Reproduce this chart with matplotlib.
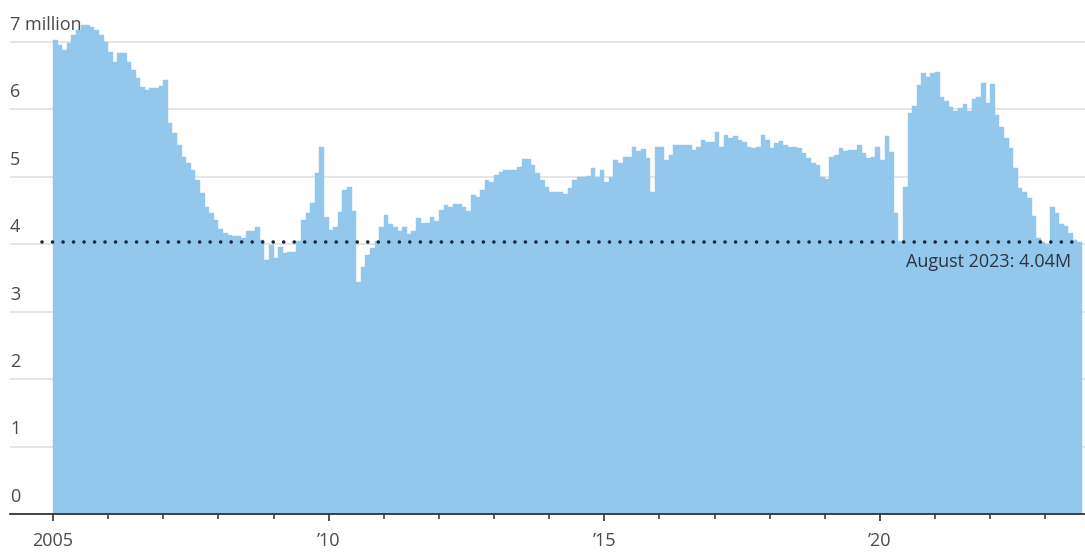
import numpy as np
import matplotlib.pyplot as plt
from matplotlib.transforms import blended_transform_factory

plt.rcParams['font.family'] = ['Open Sans', 'DejaVu Sans']

# Existing-home sales, seasonally adjusted annual rate, millions
sales_2005 = [7.03, 6.95, 6.88, 6.98, 7.10, 7.18, 7.25, 7.25, 7.22, 7.18, 7.10, 7.00]
sales_2006 = [6.85, 6.70, 6.83, 6.83, 6.70, 6.58, 6.46, 6.33, 6.29, 6.32, 6.32, 6.35]
sales_2007 = [6.43, 5.80, 5.65, 5.47, 5.30, 5.20, 5.10, 4.95, 4.76, 4.55, 4.46, 4.36]
sales_2008 = [4.22, 4.17, 4.14, 4.12, 4.12, 4.10, 4.20, 4.20, 4.26, 4.06, 3.77, 3.99]
sales_2009 = [3.80, 3.96, 3.87, 3.88, 3.88, 4.05, 4.36, 4.46, 4.61, 5.06, 5.45, 4.40]
sales_2010 = [4.21, 4.25, 4.48, 4.80, 4.85, 4.50, 3.44, 3.66, 3.84, 3.94, 4.05, 4.26]
sales_2011 = [4.43, 4.30, 4.26, 4.20, 4.26, 4.15, 4.20, 4.39, 4.31, 4.31, 4.40, 4.35]
sales_2012 = [4.51, 4.58, 4.56, 4.60, 4.60, 4.56, 4.50, 4.73, 4.70, 4.80, 4.95, 4.92]
sales_2013 = [5.03, 5.07, 5.10, 5.10, 5.10, 5.15, 5.26, 5.26, 5.17, 5.05, 4.95, 4.85]
sales_2014 = [4.78, 4.78, 4.78, 4.75, 4.83, 4.95, 5.00, 5.00, 5.02, 5.13, 5.00, 5.10]
sales_2015 = [4.92, 5.00, 5.25, 5.20, 5.30, 5.30, 5.45, 5.38, 5.42, 5.28, 4.78, 5.44]
sales_2016 = [5.44, 5.25, 5.33, 5.47, 5.47, 5.47, 5.47, 5.40, 5.45, 5.55, 5.52, 5.52]
sales_2017 = [5.67, 5.44, 5.62, 5.58, 5.60, 5.55, 5.52, 5.45, 5.43, 5.44, 5.62, 5.55]
sales_2018 = [5.43, 5.50, 5.53, 5.47, 5.45, 5.44, 5.43, 5.35, 5.28, 5.20, 5.18, 5.00]
sales_2019 = [4.97, 5.30, 5.32, 5.43, 5.38, 5.40, 5.40, 5.47, 5.35, 5.28, 5.30, 5.45]
sales_2020 = [5.25, 5.60, 5.37, 4.46, 4.05, 4.85, 5.95, 6.05, 6.36, 6.54, 6.48, 6.54]
sales_2021 = [6.56, 6.19, 6.12, 6.03, 5.98, 6.02, 6.08, 5.98, 6.15, 6.18, 6.39, 6.10]
sales_2022 = [6.37, 5.92, 5.74, 5.57, 5.43, 5.13, 4.84, 4.78, 4.68, 4.42, 4.09, 4.03]
sales_2023 = [4.00, 4.55, 4.46, 4.30, 4.27, 4.16, 4.07, 4.04]

latest_value = 4.04
latest_label = "August 2023: 4.04M"

y_ticks = [0, 1, 2, 3, 4, 5, 6, 7]
y_labels = ["0", "1", "2", "3", "4", "5", "6", "7 million"]
x_ticks = [2005, 2010, 2015, 2020]
x_labels = ["2005", "\u201910", "\u201915", "\u201920"]

sales = np.concatenate([sales_2005, sales_2006, sales_2007, sales_2008,
                        sales_2009, sales_2010, sales_2011, sales_2012,
                        sales_2013, sales_2014, sales_2015, sales_2016,
                        sales_2017, sales_2018, sales_2019, sales_2020,
                        sales_2021, sales_2022, sales_2023])
months = 2005 + np.arange(len(sales)) / 12

fig = plt.figure(figsize=(10.85, 5.54), dpi=100)
ax = fig.add_axes([10 / 1085, 40 / 554, 1075 / 1085, 494 / 554])

bar_color = "#93c8ec"
ax.bar(months, sales, width=1 / 12, align="edge", color=bar_color,
       edgecolor=bar_color, linewidth=0.3, zorder=2)

ax.set_xlim(2005 - 43 / 55.13, 2005 + 1032 / 55.13)
ax.set_ylim(0, 494 / 67.43)

# horizontal grid behind the bars
for y in y_ticks[1:]:
    ax.axhline(y, color="#e2e2e2", linewidth=1.2, zorder=1)

# labels sit on top of their gridlines, flush left
trans = blended_transform_factory(ax.transAxes, ax.transData)
for y, lab in zip(y_ticks, y_labels):
    ax.text(0.0, y + 0.12, lab, transform=trans, ha="left", va="bottom",
            fontsize=13, color="#4a4a4a")

ax.set_yticks([])
for side in ["left", "right", "top"]:
    ax.spines[side].set_visible(False)
ax.spines["bottom"].set_color("#333333")
ax.spines["bottom"].set_linewidth(1.3)
ax.spines["bottom"].set_zorder(3)

ax.set_xticks(x_ticks)
ax.set_xticklabels(x_labels, fontsize=13, color="#4a4a4a")
ax.set_xticks(np.arange(2005, 2024), minor=True)
ax.tick_params(axis="x", which="major", length=5, width=1.2,
               color="#333333", pad=8)
ax.tick_params(axis="x", which="minor", length=3.5, width=1.1,
               color="#333333")

# dotted reference line for the latest reading
ax.plot([2005 - 11 / 55.13, months[-1] + 1 / 12], [latest_value] * 2,
        color="#1b2838", linewidth=2.6, dashes=(0.01, 2.9),
        dash_capstyle="round", zorder=4)
ax.text(2005 + 1018 / 55.13, latest_value - 0.17, latest_label,
        ha="right", va="top", fontsize=13, color="#2b3440", zorder=4)

fig.savefig("out.png", dpi=100)
